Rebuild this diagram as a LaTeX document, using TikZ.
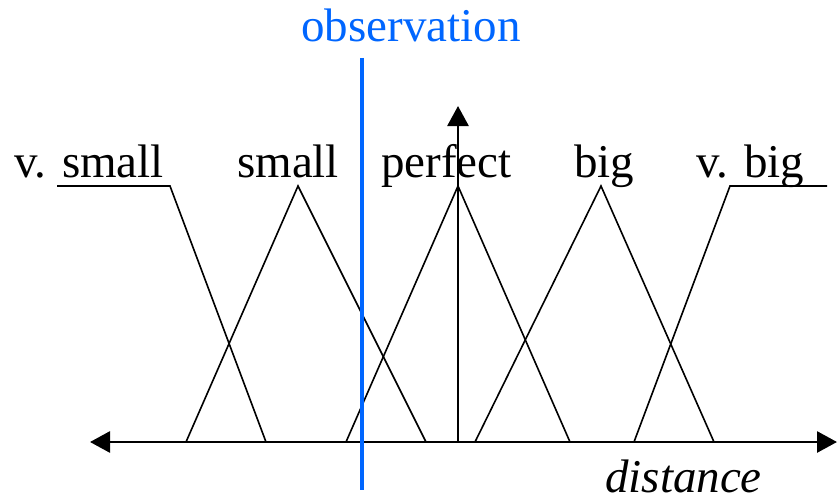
\documentclass[tikz,border=0pt]{standalone}
\usepackage{fontspec}
\setmainfont{Liberation Serif}
\usetikzlibrary{arrows.meta}
\definecolor{obsblue}{RGB}{0,102,255}
\tikzset{
  lbl/.style={inner sep=0pt, anchor=base west, font=\fontsize{47}{50}\selectfont},
  mf/.style={draw=black, line width=1.6pt, line join=miter},
  axis/.style={draw=black, line width=2.8pt, -{Triangle[length=20pt,width=21pt]}},
}
\begin{document}
\begin{tikzpicture}[x=1pt,y=-1pt]
\useasboundingbox (0,0) rectangle (838,503);
% axes
\coordinate (o) at (458,442);
\coordinate (xl) at (90,442);
\coordinate (xr) at (837,442);
\coordinate (yt) at (458,106);
\draw[axis] (o) -- (xl);
\draw[axis] (o) -- (xr);
\draw[axis] (o) -- (yt);
% membership functions
\coordinate (vs0) at (57,186);
\coordinate (vs1) at (170,186);
\coordinate (vs2) at (266,442);
\coordinate (s0) at (186,442);
\coordinate (s1) at (298,186);
\coordinate (s2) at (426,442);
\coordinate (p0) at (346,442);
\coordinate (p1) at (458,186);
\coordinate (p2) at (570,442);
\coordinate (b0) at (475,442);
\coordinate (b1) at (601,186);
\coordinate (b2) at (714,442);
\coordinate (vb0) at (634,442);
\coordinate (vb1) at (730,186);
\coordinate (vb2) at (827,186);
\draw[mf] (vs0) -- (vs1) -- (vs2);
\draw[mf] (s0) -- (s1) -- (s2);
\draw[mf] (p0) -- (p1) -- (p2);
\draw[mf] (b0) -- (b1) -- (b2);
\draw[mf] (vb0) -- (vb1) -- (vb2);
% labels
\node[lbl] (lvs) at (14,177) {v. small};
\node[lbl] (ls) at (237,177) {small};
\node[lbl] (lp) at (381,177) {perfect};
\node[lbl] (lb) at (574,177) {big};
\node[lbl] (lvb) at (696,177) {v. big};
\node[lbl, font=\fontsize{47}{50}\selectfont\itshape] (ld) at (605,492) {distance};
% observation
\coordinate (ot) at (362,58);
\coordinate (ob) at (362,490);
\draw[obsblue, line width=4pt] (ot) -- (ob);
\node[lbl, anchor=base, text=obsblue] (lo) at (411,42) {observation};
\end{tikzpicture}
\end{document}
